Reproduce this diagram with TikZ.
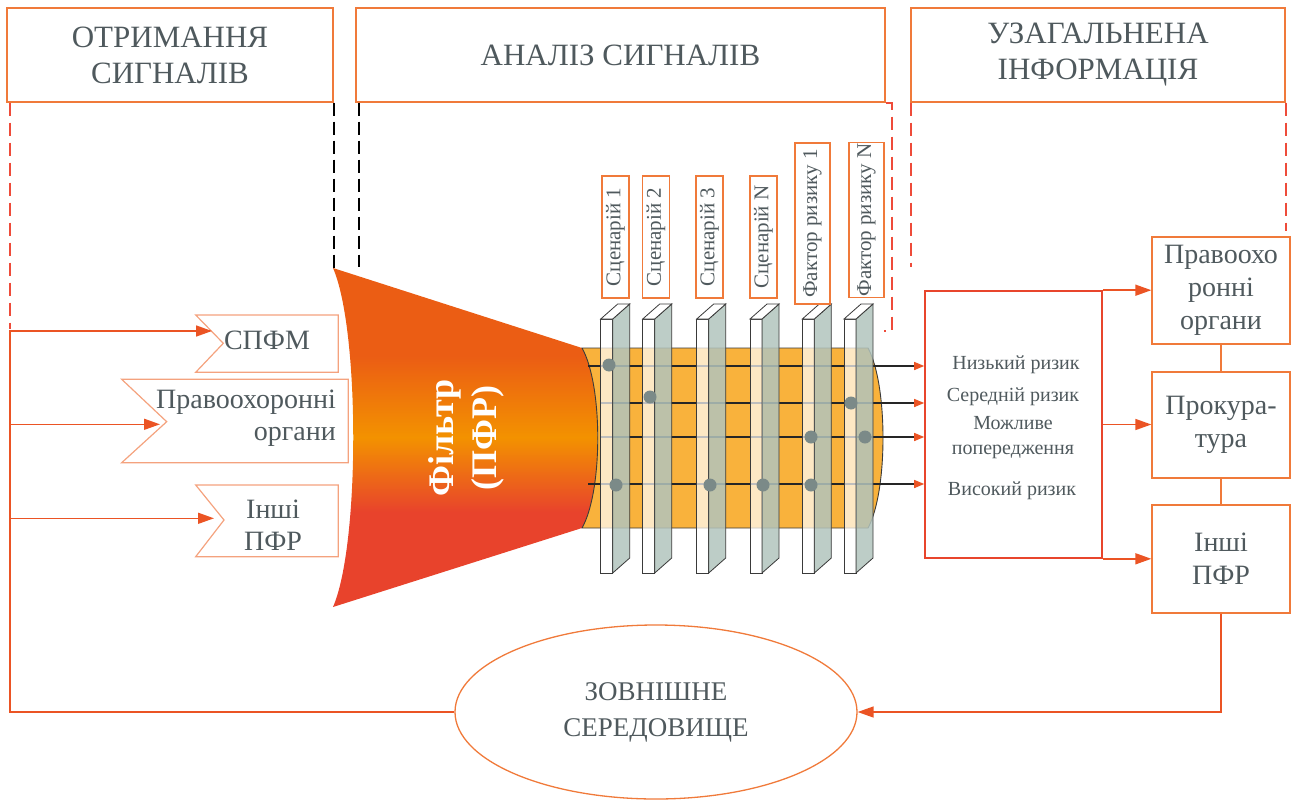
\documentclass[tikz,border=0pt]{standalone}
\usepackage{fontspec}
\setmainfont{Liberation Serif}
\usetikzlibrary{arrows.meta,shapes.geometric,calc}

\definecolor{txtc}{HTML}{4F595D}
\definecolor{hdrc}{HTML}{F07A3A}
\definecolor{chevc}{HTML}{F4A27E}
\definecolor{arrc}{HTML}{EB5424}
\definecolor{riskc}{HTML}{E8452C}
\definecolor{dashr}{HTML}{EE4B3A}
\definecolor{cylc}{HTML}{F9B23C}
\definecolor{cyll}{HTML}{3A3A3A}
\definecolor{sidec}{HTML}{B2C4BD}
\definecolor{dotc}{HTML}{7B8A88}
\definecolor{fred}{HTML}{E8432C}
\definecolor{forange}{HTML}{F39200}
\definecolor{fdark}{HTML}{EB5D14}

% vertical colour run of the filter body (25bp = bottom, 75bp = top of the path)
\pgfdeclareverticalshading{filtershade}{100bp}{color(0bp)=(fred); color(39bp)=(fred); color(50bp)=(forange); color(62bp)=(fdark); color(100bp)=(fdark)}

\begin{document}
\begin{tikzpicture}[x=1pt,y=-1pt,
  hdrbox/.style={draw=hdrc, line width=1.3pt, inner sep=0pt, align=center, text=txtc,
    font=\fontsize{31}{36}\selectfont},
  chev/.style={draw=chevc, line width=1.2pt},
  chtxt/.style={text=txtc, inner sep=0pt, font=\fontsize{28}{32}\selectfont},
  rbox/.style={draw=hdrc, line width=1.3pt, minimum width=138pt, inner sep=0pt, align=center,
    text=txtc, font=\fontsize{28}{33}\selectfont},
  riskbox/.style={draw=riskc, line width=1.6pt, minimum width=177pt, minimum height=267pt, inner sep=0pt},
  risktxt/.style={text=txtc, inner sep=0pt, align=center, font=\fontsize{20}{25}\selectfont},
  lbl/.style={draw=hdrc, line width=1.3pt, fill=white, rotate=90, inner sep=0pt, text=txtc,
    font=\fontsize{21}{24}\selectfont},
  fb/.style={draw=arrc, line width=1.5pt},
  fbarrow/.style={fb, -{Triangle[length=16pt,width=11pt]}},
  rline/.style={draw=black!85, line width=1.3pt, -{Triangle[length=10pt,width=8pt,color=arrc]}},
  rconn/.style={draw=hdrc, line width=1.3pt},
  rdash/.style={draw=dashr, line width=1.9pt, dash pattern=on 13pt off 7pt},
  kdash/.style={draw=black, line width=1.9pt, dash pattern=on 13pt off 6pt},
  slabfront/.style={fill=white, fill opacity=0.7, draw=cyll, line width=0.8pt},
  slabside/.style={fill=sidec, fill opacity=0.85, draw=cyll, line width=0.8pt},
  slabtop/.style={fill=white, draw=cyll, line width=0.8pt},
  envshape/.style={ellipse, draw=hdrc, line width=1.3pt, minimum width=402pt, minimum height=174pt,
    inner sep=0pt, align=center, text=txtc, font=\fontsize{27}{36}\selectfont}
]
\useasboundingbox (0,0) rectangle (1298,800);

% ---------- section headers ----------
\node[hdrbox, minimum width=326pt, minimum height=94pt] (h1) at (170,55) {ОТРИМАННЯ\\СИГНАЛІВ};
\node[hdrbox, minimum width=529pt, minimum height=94pt] (h2) at (620.5,55) {АНАЛІЗ СИГНАЛІВ};
\node[hdrbox, minimum width=374pt, minimum height=94pt] (h3) at (1098,55) {УЗАГАЛЬНЕНА\\ІНФОРМАЦІЯ};

% ---------- section borders (dashed) ----------
\draw[rdash] ([xshift=4pt]h1.south west) -- ++(0,226);
\draw[kdash] (h1.south east) -- ++(0,166);
\draw[kdash] ([xshift=4pt]h2.south west) -- ++(0,164);
\draw[rdash] (h2.south east) -- ++(6,0) -- ++(0,228) -- ++(-8,0);
\draw[rdash] ([xshift=1pt]h3.south west) -- ++(0,164);
\draw[rdash] (h3.south east) -- ++(0,128);

% ---------- incoming signal sources ----------
\draw[chev] (195.7,315) -- (338.3,315) -- (338.3,372.3) -- (195.7,372.3) -- (223.3,343.3) -- cycle;
\draw[chev] (121.7,379.3) -- (348.3,379.3) -- (348.3,462.7) -- (121.7,462.7) -- (166.7,421.7) -- cycle;
\draw[chev] (195.7,485) -- (338.3,485) -- (338.3,556.7) -- (195.7,556.7) -- (224,520) -- cycle;
\node[chtxt] (spfm) at (267,340) {СПФМ};
\node[chtxt, align=right, anchor=east] (pravoL) at (336,418) {Правоохоронні\\органи};
\node[chtxt, align=center] (inshiL) at (273,525) {Інші\\ПФР};
\coordinate (tipA) at (212,331);
\coordinate (tipB) at (160,424.3);
\coordinate (tipC) at (214,518.3);

% ---------- filter funnel ----------
\shade[shading=filtershade] (333,268) .. controls (360,330) and (360,545) .. (333,607)
  -- (582,528) .. controls (603,491) and (603,385) .. (582,348) -- cycle;
\node[text=white, rotate=90, align=center, inner sep=0pt,
  font=\bfseries\fontsize{36}{43}\selectfont] (ftxt) at (466,438) {Фільтр\\(ПФР)};

% ---------- signal cylinder ----------
\filldraw[fill=cylc, draw=cyll, line width=0.9pt] (582,348) -- (868,348)
  .. controls (888,385) and (888,491) .. (868,528) -- (582,528)
  .. controls (603,491) and (603,385) .. (582,348) -- cycle;

% ---------- risk summary box ----------
\node[riskbox] (risk) at (1013.5,424.5) {};
\node[risktxt] (t1) at (1016,365) {Низький ризик};
\node[risktxt] (t2) at (1013,397) {Середній ризик};
\node[risktxt] (t3) at (1013,438) {Можливе\\попередження};
\node[risktxt] (t4) at (1012,491) {Високий ризик};

% signal channels into the risk box
\foreach \yy/\xs in {366/588, 403/601, 437/601, 484/588}
  \draw[rline] (\xs,\yy) -- (risk.west |- {(0,\yy)});

% ---------- scenario / risk-factor slabs ----------
\foreach \sx in {600.7,642.7,696.7,750,802.3,844} {
  \filldraw[slabfront] (\sx,319) rectangle ++(12,254);
  \filldraw[slabside] ({\sx+12},319) -- ++(17,-15) -- ++(0,254) -- ++(-17,15) -- cycle;
  \filldraw[slabtop] (\sx,319) -- ++(17,-15) -- ++(12,0) -- ++(-17,15) -- cycle;
}
\foreach \dx/\dy in {609/365, 650/397, 616/485, 710/485, 763/485, 811/437, 811/485, 851/403, 865/437}
  \fill[dotc] (\dx,\dy) circle (6.5);

\node[lbl, minimum width=122pt, minimum height=27pt] (s1) at (615.5,237) {Сценарій 1};
\node[lbl, minimum width=122pt, minimum height=27pt] (s2) at (656,237) {Сценарій 2};
\node[lbl, minimum width=122pt, minimum height=27pt] (s3) at (709.5,237) {Сценарій 3};
\node[lbl, minimum width=122pt, minimum height=27pt] (s4) at (763.5,237) {Сценарій N};
\node[lbl, minimum width=161pt, minimum height=35pt] (f1) at (812.5,223.5) {Фактор ризику 1};
\node[lbl, minimum width=155pt, minimum height=35pt] (f2) at (866.5,220) {Фактор ризику N};

% ---------- recipients ----------
\node[rbox, minimum height=107pt] (rb1) at (1221,290.5) {Правоохо\\ронні\\органи};
\node[rbox, minimum height=106pt] (rb2) at (1221,425) {Прокура-\\тура};
\node[rbox, minimum height=108pt] (rb3) at (1221,559) {Інші\\ПФР};
\draw[rconn] (rb1) -- (rb2);
\draw[rconn] (rb2) -- (rb3);
\draw[fbarrow] (risk.north east) -- (risk.north east -| rb1.west);
\draw[fbarrow] (risk.east) -- (risk.east -| rb2.west);
\draw[fbarrow] (risk.south east) -- (risk.south east -| rb3.west);

% ---------- external environment and feedback loop ----------
\node[envshape] (env) at (656,712) {ЗОВНІШНЕ\\СЕРЕДОВИЩЕ};
\coordinate (fbtop) at (10,330);
\coordinate (jA) at (10,331);
\coordinate (jB) at (10,424.3);
\coordinate (jC) at (10,518.3);
\draw[fbarrow] (rb3.south) |- (env.east);
\draw[fb] (env.west) -| (fbtop);
\draw[fbarrow] (jA) -- (tipA);
\draw[fbarrow] (jB) -- (tipB);
\draw[fbarrow] (jC) -- (tipC);
\end{tikzpicture}
\end{document}
